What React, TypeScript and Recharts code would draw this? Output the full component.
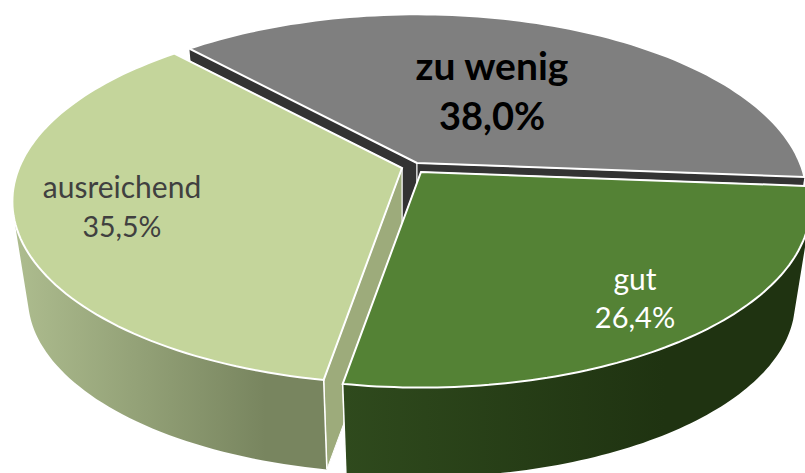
import React from "react";
import { PieChart, Pie } from "recharts";

const categories = ["zu wenig", "ausreichend", "gut"];
const values = [38.0, 35.5, 26.4];
const valueLabels = ["38,0%", "35,5%", "26,4%"];

const topColors = ["#7f7f7f", "#c4d59b", "#548235"];
const faceColors = ["#333333", "#9dab7b", "#33491f"];
const wallFrom = ["#333333", "#aebd8f", "#2f4a1d"];
const wallTo = ["#333333", "#78855f", "#1f3311"];
const offsetsX = [7, -8, 11];
const offsetsY = [-2, 3, 7];
const labelX = [492, 122, 635];
const labelY = [[80, 130], [198, 237], [290, 328]];
const labelSize = [[39, 38], [30, 28.5], [30, 29]];
const labelWeight = [700, 400, 400];
const labelColor = ["#000000", "#404040", "#ffffff"];

const FLAT = 0.4595;
const PERSPECTIVE = 0.1836;
const DEPTH = 98;
const BOTTOM_SCALE = 0.96;

const data = categories.map((name, i) => ({ name, value: values[i] }));

type Pt = [number, number];

function SliceShape(props: any) {
  const { cx, cy, outerRadius: r, startAngle, endAngle, index } = props;
  const i: number = index ?? categories.indexOf(props.name);
  const ox = cx + offsetsX[i];
  const oy = cy + offsetsY[i];
  const project = (deg: number, f = 1): Pt => {
    const rad = (deg * Math.PI) / 180;
    const u = Math.cos(rad) * f;
    const v = Math.sin(rad) * f;
    const w = 1 - PERSPECTIVE * v;
    return [ox + (r * u) / w, oy + (r * FLAT * v) / w];
  };
  const lower = ([x, y]: Pt): Pt => [
    ox + (x - ox) * BOTTOM_SCALE,
    oy + (y - oy) * BOTTOM_SCALE + DEPTH,
  ];
  const a0 = Math.min(-startAngle, -endAngle);
  const a1 = Math.max(-startAngle, -endAngle);
  const steps = 90;
  const rim: Pt[] = [];
  for (let s = 0; s <= steps; s++) rim.push(project(a0 + ((a1 - a0) * s) / steps));
  const apex = project(0, 0);
  const toD = (pts: Pt[]) =>
    "M" + pts.map((p) => p[0].toFixed(1) + "," + p[1].toFixed(1)).join("L") + "Z";
  const area = (pts: Pt[]) =>
    pts.reduce((acc, p, k) => {
      const q = pts[(k + 1) % pts.length];
      return acc + p[0] * q[1] - q[0] * p[1];
    }, 0);
  const top = toD([apex, ...rim]);
  let outer = "";
  for (let s = 0; s < steps; s++) {
    const quad: Pt[] = [rim[s], rim[s + 1], lower(rim[s + 1]), lower(rim[s])];
    outer += toD(area(quad) < 0 ? quad.slice().reverse() : quad);
  }
  const sinOf = (deg: number) => Math.sin((deg * Math.PI) / 180);
  const ends = [
    { a: a0, p: rim[0] },
    { a: a1, p: rim[steps] },
  ].sort((x, y) => sinOf(x.a) - sinOf(y.a));
  const gid = "wall" + i;
  const xs = rim.map((p) => p[0]);
  const edges = ends
    .filter((e) => sinOf(e.a) > 0.5)
    .map((e) => {
      const q = lower(e.p);
      return `M${e.p[0].toFixed(1)},${e.p[1].toFixed(1)}L${q[0].toFixed(1)},${q[1].toFixed(1)}`;
    })
    .join("");
  return (
    <g>
      <defs>
        <linearGradient id={gid} gradientUnits="userSpaceOnUse" x1={Math.min(...xs)} y1={0} x2={Math.max(...xs) * 0.82} y2={0}>
          <stop offset="0%" stopColor={wallFrom[i]} />
          <stop offset="100%" stopColor={wallTo[i]} />
        </linearGradient>
      </defs>
      {ends.map((e, k) => (
        <path key={k} d={toD([apex, e.p, lower(e.p), lower(apex)])} fill={faceColors[i]} stroke="#ffffff" strokeWidth={1} />
      ))}
      <path d={outer} fill={`url(#${gid})`} fillRule="nonzero" />
      {edges && <path d={edges} fill="none" stroke="#ffffff" strokeWidth={1.5} />}
      <path d={top} fill={topColors[i]} stroke="#ffffff" strokeWidth={2} />
      {[categories[i], valueLabels[i]].map((t, k) => (
        <text
          key={k}
          x={labelX[i]}
          y={labelY[i][k]}
          textAnchor="middle"
          fontFamily="Lato, sans-serif"
          fontSize={labelSize[i][k]}
          fontWeight={labelWeight[i]}
          fill={labelColor[i]}
        >
          {t}
        </text>
      ))}
    </g>
  );
}

export default function App() {
  const shape = (p: any) => <SliceShape {...p} />;
  const extra: any = { shape, inactiveShape: shape, activeShape: shape };
  return (
    <div style={{ position: "absolute", left: 0, top: 0, width: 805, height: 473, overflow: "hidden" }}>
      <PieChart width={805} height={473} margin={{ top: 0, right: 0, bottom: 0, left: 0 }}>
        <Pie
          data={data}
          dataKey="value"
          nameKey="name"
          cx={410}
          cy={165}
          innerRadius={0}
          outerRadius={383}
          startAngle={-364.5}
          endAngle={-4.5}
          paddingAngle={0}
          label={false}
          labelLine={false}
          isAnimationActive={false}
          stroke="none"
          {...extra}
        />
      </PieChart>
    </div>
  );
}
